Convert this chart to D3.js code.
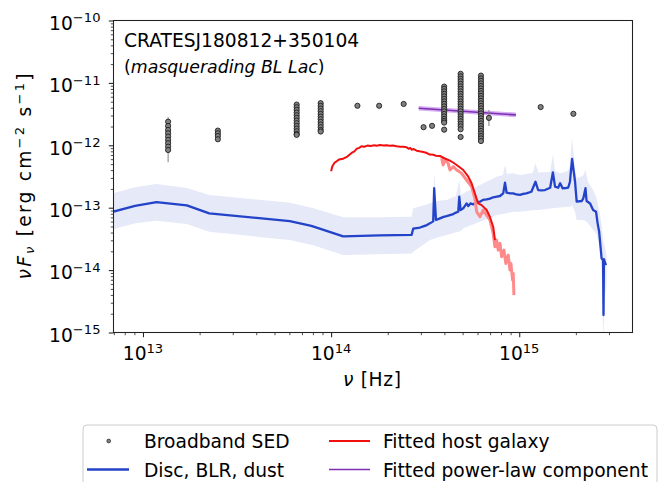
<!DOCTYPE html>
<html>
<head>
<meta charset="utf-8">
<script src="https://cdn.jsdelivr.net/npm/d3@7"></script>
<style>
  body { margin: 0; background: #fff; }
  text { font-family: "DejaVu Sans", sans-serif; fill: #000; }
</style>
</head>
<body>
<svg id="chart" width="665" height="482"></svg>
<script>
// ---- Broadband SED photometry (Hz, erg cm^-2 s^-1) ----
const sedNu = [
  1.36e13,1.36e13,1.36e13,1.36e13,1.36e13,1.36e13,1.36e13,1.36e13,1.36e13,
  2.50e13,2.50e13,2.50e13,2.50e13,
  6.56e13,6.56e13,6.56e13,6.56e13,6.56e13,6.56e13,6.56e13,6.56e13,6.56e13,6.56e13,6.56e13,6.56e13,6.56e13,
  8.80e13,8.80e13,8.80e13,8.80e13,8.80e13,8.80e13,8.80e13,8.80e13,8.80e13,8.80e13,8.80e13,8.80e13,
  1.38e14,1.80e14,2.43e14,3.10e14,3.44e14,
  3.99e14,3.99e14,3.99e14,3.99e14,3.99e14,3.99e14,3.99e14,3.99e14,3.99e14,3.99e14,3.99e14,3.99e14,3.99e14,3.99e14,3.99e14,3.99e14,3.99e14,
  4.88e14,4.88e14,4.88e14,4.88e14,4.88e14,4.88e14,4.88e14,4.88e14,4.88e14,4.88e14,4.88e14,4.88e14,4.88e14,4.88e14,4.88e14,4.88e14,4.88e14,4.88e14,4.88e14,4.88e14,4.88e14,4.88e14,4.88e14,4.88e14,
  6.26e14,6.26e14,6.26e14,6.26e14,6.26e14,6.26e14,6.26e14,6.26e14,6.26e14,6.26e14,6.26e14,6.26e14,6.26e14,6.26e14,6.26e14,6.26e14,6.26e14,6.26e14,6.26e14,6.26e14,6.26e14,6.26e14,6.26e14,6.26e14,6.26e14,6.26e14,6.26e14,
  6.90e14,1.30e15,1.94e15
];
const sedFlux = [
  2.39e-12,2.04e-12,1.76e-12,1.56e-12,1.38e-12,1.22e-12,1.08e-12,9.51e-13,8.41e-13,
  1.72e-12,1.56e-12,1.41e-12,1.25e-12,
  4.49e-12,4.07e-12,3.69e-12,3.34e-12,3.03e-12,2.75e-12,2.49e-12,2.26e-12,2.04e-12,1.85e-12,1.68e-12,1.52e-12,1.47e-12,
  4.73e-12,4.28e-12,3.87e-12,3.52e-12,3.18e-12,2.88e-12,2.62e-12,2.37e-12,2.15e-12,1.95e-12,1.76e-12,1.66e-12,
  4.30e-12,4.30e-12,4.60e-12,1.95e-12,2.05e-12,
  8.73e-12,8.02e-12,7.31e-12,6.67e-12,6.08e-12,5.54e-12,5.05e-12,4.61e-12,4.20e-12,3.83e-12,3.49e-12,3.18e-12,2.90e-12,2.65e-12,2.46e-12,2.31e-12,1.78e-12,
  1.40e-11,1.27e-11,1.16e-11,1.06e-11,9.64e-12,8.79e-12,8.02e-12,7.31e-12,6.67e-12,6.08e-12,5.54e-12,5.05e-12,4.61e-12,4.20e-12,3.83e-12,3.49e-12,3.18e-12,2.90e-12,2.65e-12,2.42e-12,2.20e-12,2.01e-12,1.81e-12,1.36e-12,
  1.31e-11,1.18e-11,1.08e-11,9.82e-12,8.95e-12,8.16e-12,7.44e-12,6.79e-12,6.19e-12,5.65e-12,5.15e-12,4.69e-12,4.28e-12,3.90e-12,3.56e-12,3.24e-12,2.96e-12,2.70e-12,2.46e-12,2.24e-12,2.04e-12,1.86e-12,1.70e-12,1.55e-12,1.41e-12,1.29e-12,1.17e-12,
  2.75e-12,4.10e-12,3.20e-12
];
// Error bars on the photometry
const errNu = [1.36e13, 6.90e14];
const errLo = [5.35e-13, 2.04e-12];
const errHi = [2.82e-12, 3.69e-12];

// ---- Disc + BLR + dust model ----
const discNu = [
  6.90e12,9.07e12,1.18e13,1.71e13,2.25e13,6.03e13,7.85e13,1.16e14,1.81e14,2.68e14,
  2.73e14,2.85e14,2.97e14,3.09e14,3.23e14,3.35e14,3.49e14,3.53e14,3.61e14,3.79e14,
  3.96e14,4.11e14,4.28e14,4.46e14,4.61e14,4.74e14,4.80e14,4.88e14,5.04e14,5.25e14,
  5.36e14,5.50e14,5.69e14,5.92e14,6.18e14,6.41e14,6.71e14,6.99e14,7.27e14,7.61e14,
  7.90e14,8.22e14,8.40e14,8.57e14,8.93e14,9.29e14,9.66e14,1.009e15,1.05e15,1.09e15,
  1.16e15,1.22e15,1.26e15,1.31e15,1.37e15,1.46e15,1.51e15,1.55e15,1.61e15,1.65e15,
  1.70e15,1.77e15,1.82e15,1.86e15,1.91e15,1.98e15,2.02e15,2.15e15,2.19e15,2.25e15,
  2.28e15,2.38e15,2.47e15,2.56e15,2.61e15,2.66e15,2.71e15,2.74e15,2.79e15,2.805e15,
  2.82e15,2.85e15,2.89e15
];
const discFlux = [
  8.6e-14,1.07e-13,1.23e-13,1.09e-13,8.1e-14,6.1e-14,5.1e-14,3.47e-14,3.6e-14,3.68e-14,
  4.60e-14,4.72e-14,4.81e-14,5.02e-14,5.27e-14,5.61e-14,6.04e-14,2.05e-13,6.34e-14,6.75e-14,
  7.13e-14,7.34e-14,7.62e-14,7.91e-14,8.36e-14,8.61e-14,1.50e-13,9.17e-14,9.77e-14,1.17e-13,
  1.06e-13,1.17e-13,1.13e-13,1.23e-13,1.25e-13,1.33e-13,1.36e-13,1.40e-13,1.47e-13,1.51e-13,
  1.54e-13,1.70e-13,2.52e-13,1.74e-13,1.70e-13,1.70e-13,1.63e-13,1.60e-13,1.66e-13,1.70e-13,
  1.80e-13,2.61e-13,1.92e-13,1.90e-13,1.92e-13,2.09e-13,3.69e-13,2.17e-13,2.09e-13,2.46e-13,
  2.05e-13,2.07e-13,2.09e-13,2.61e-13,6.04e-13,2.61e-13,1.25e-13,1.28e-13,1.41e-13,2.05e-13,
  1.28e-13,1.17e-13,9.17e-14,8.61e-14,5.61e-14,4.11e-14,2.23e-14,1.54e-14,1.44e-14,1.9e-15,
  1.5e-14,1.36e-14,1.2e-14
];
// Uncertainty envelope of the disc model
const bandNu = [
  6.90e12,9.07e12,1.18e13,1.71e13,2.25e13,6.03e13,8.04e13,1.16e14,1.81e14,2.68e14,
  2.73e14,3.35e14,3.49e14,3.53e14,3.61e14,4.11e14,4.61e14,4.80e14,4.90e14,5.04e14,
  6.18e14,7.58e14,8.19e14,8.40e14,8.60e14,9.29e14,1.009e15,1.18e15,1.22e15,1.265e15,
  1.46e15,1.51e15,1.55e15,1.65e15,1.815e15,1.86e15,1.91e15,1.98e15,2.02e15,2.18e15,
  2.25e15,2.32e15,2.47e15,2.58e15,2.69e15,2.74e15,2.80e15,2.84e15,2.91e15
];
const bandLo = [
  4.5e-14,5.61e-14,6.18e-14,5.47e-14,4.11e-14,3.03e-14,2.51e-14,1.74e-14,1.80e-14,1.85e-14,
  1.96e-14,3.03e-14,3.14e-14,3.20e-14,3.26e-14,3.64e-14,4.06e-14,4.14e-14,4.22e-14,4.67e-14,
  5.96e-14,7.62e-14,7.91e-14,8.06e-14,8.21e-14,8.61e-14,8.61e-14,9.07e-14,9.17e-14,9.17e-14,
  9.69e-14,9.77e-14,9.87e-14,1.01e-13,1.04e-13,1.04e-13,1.10e-13,8.52e-14,6.34e-14,6.34e-14,
  6.11e-14,5.61e-14,4.39e-14,3.78e-14,2.09e-14,1.0e-14,7.5e-16,3.3e-15,6.1e-15
];
const bandHi = [
  1.70e-13,2.12e-13,2.40e-13,2.07e-13,1.60e-13,1.20e-13,9.77e-14,7.0e-14,7.0e-14,7.16e-14,
  9.77e-14,1.17e-13,1.23e-13,3.78e-13,1.28e-13,1.33e-13,1.54e-13,2.78e-13,1.60e-13,1.70e-13,
  2.31e-13,3.14e-13,3.34e-13,4.84e-13,3.47e-13,3.56e-13,3.34e-13,3.60e-13,5.15e-13,3.66e-13,
  3.73e-13,7.18e-13,3.87e-13,3.56e-13,3.87e-13,4.84e-13,1.31e-12,4.02e-13,2.96e-13,3.22e-13,
  4.02e-13,2.58e-13,1.92e-13,1.41e-13,7.62e-14,5.27e-14,2.84e-14,2.52e-14,1.74e-14
];

// ---- Fitted host galaxy template ----
const hostNu = [
  1.000e14,1.015e14,1.027e14,1.045e14,1.07e14,1.10e14,1.16e14,1.22e14,1.285e14,1.33e14,
  1.37e14,1.41e14,1.45e14,1.50e14,1.56e14,1.62e14,1.70e14,1.745e14,1.82e14,1.90e14,
  1.97e14,2.05e14,2.13e14,2.23e14,2.33e14,2.42e14,2.52e14,2.58e14,2.63e14,2.68e14,
  2.75e14,2.85e14,2.95e14,3.09e14,3.20e14,3.35e14,3.49e14,3.60e14,3.79e14,4.00e14,
  4.28e14,4.45e14,4.65e14,5.04e14,5.36e14,5.58e14,5.81e14,6.05e14,6.31e14,6.71e14,
  6.98e14,7.27e14,7.43e14
];
const hostFlux = [
  3.83e-13,4.6e-13,4.89e-13,5.3e-13,5.54e-13,5.9e-13,6.1e-13,6.6e-13,7.54e-13,8.0e-13,
  8.83e-13,9.1e-13,9.65e-13,9.5e-13,9.9e-13,9.75e-13,1.0e-12,9.85e-13,1.01e-12,9.9e-13,
  1.0e-12,9.8e-13,9.9e-13,9.65e-13,9.5e-13,9.45e-13,9.3e-13,8.8e-13,9.1e-13,8.5e-13,
  8.7e-13,8.2e-13,8.0e-13,7.8e-13,7.6e-13,7.1e-13,7.08e-13,6.8e-13,6.74e-13,6.2e-13,
  5.67e-13,5.3e-13,4.84e-13,4.02e-13,3.14e-13,2.46e-13,1.70e-13,1.17e-13,1.10e-13,9.17e-14,
  7.16e-14,4.95e-14,3.03e-14
];
// Host template outside the fitted range (drawn faded)
const hostExtNu = [
  3.87e14,3.94e14,4.03e14,4.19e14,4.28e14,4.46e14,4.65e14,4.94e14,5.25e14,5.58e14,
  5.81e14,5.94e14,6.18e14,6.44e14,6.71e14,6.99e14,7.27e14,7.43e14,7.58e14,7.73e14,
  7.90e14,8.06e14,8.29e14,8.49e14,8.74e14,8.93e14,9.03e14,9.22e14,9.29e14,9.37e14
];
const hostExtFlux = [
  6.19e-13,4.84e-13,5.82e-13,5.15e-13,4.02e-13,4.54e-13,4.02e-13,3.56e-13,2.78e-13,2.17e-13,
  1.41e-13,8.61e-14,7.16e-14,9.17e-14,7.62e-14,6.34e-14,3.88e-14,2.37e-14,3.03e-14,2.09e-14,
  2.68e-14,1.63e-14,2.09e-14,1.28e-14,1.74e-14,1.0e-14,1.28e-14,6.9e-15,8.85e-15,3.97e-15
];

// ---- Fitted power-law component ----
const powNu = [2.92e14, 9.60e14];
const powFlux = [3.93e-12, 3.07e-12];
const powLo = [3.60e-12, 2.82e-12];
const powHi = [4.28e-12, 3.34e-12];

// ---- Axis ticks ----
const xMajor = [1e13, 1e14, 1e15];
const xMajorExp = ["13", "14", "15"];
const xMinor = [7e12,8e12,9e12,2e13,3e13,4e13,5e13,6e13,7e13,8e13,9e13,
                2e14,3e14,4e14,5e14,6e14,7e14,8e14,9e14,2e15,3e15];
const yMajor = [1e-15, 1e-14, 1e-13, 1e-12, 1e-11, 1e-10];
const yMajorExp = ["\u221215", "\u221214", "\u221213", "\u221212", "\u221211", "\u221210"];

const legendItems = ["Broadband SED", "Disc, BLR, dust", "Fitted host galaxy", "Fitted power-law component"];

// ---- Drawing ----
const svg = d3.select("#chart");
svg.append("rect").attr("width", 665).attr("height", 482).attr("fill", "#fff");

const P = { l: 113.5, r: 632.5, t: 20.5, b: 332.5 };
const x = d3.scaleLog().domain([6.97e12, 4.0e15]).range([P.l, P.r]);
const y = d3.scaleLog().domain([1e-15, 1e-10]).range([P.b, P.t]);

svg.append("clipPath").attr("id", "plotclip")
  .append("rect").attr("x", P.l).attr("y", P.t).attr("width", P.r - P.l).attr("height", P.b - P.t);

const g = svg.append("g").attr("clip-path", "url(#plotclip)");

const zip = (a, b) => a.map((v, i) => [v, b[i]]);

// disc envelope
g.append("path")
  .datum(bandNu.map((v, i) => ({ nu: v, lo: bandLo[i], hi: bandHi[i] })))
  .attr("d", d3.area().x(d => x(d.nu)).y0(d => y(d.lo)).y1(d => y(d.hi)))
  .attr("fill", "#e5e9f8");

const line = d3.line().x(d => x(d[0])).y(d => y(d[1]));

// disc model
g.append("path").datum(zip(discNu, discFlux)).attr("d", line)
  .attr("fill", "none").attr("stroke", "#2343c9").attr("stroke-width", 2.3)
  .attr("stroke-linejoin", "round");

// host galaxy: faded extension, then fitted part
g.append("path").datum(zip(hostExtNu, hostExtFlux)).attr("d", line)
  .attr("fill", "none").attr("stroke", "#ff8a8a").attr("stroke-width", 3)
  .attr("stroke-linejoin", "round");
g.append("path").datum(zip(hostNu, hostFlux)).attr("d", line)
  .attr("fill", "none").attr("stroke", "#f01010").attr("stroke-width", 2)
  .attr("stroke-linejoin", "round");

// power-law with its uncertainty
g.append("path")
  .datum(powNu.map((v, i) => ({ nu: v, lo: powLo[i], hi: powHi[i] })))
  .attr("d", d3.area().x(d => x(d.nu)).y0(d => y(d.lo)).y1(d => y(d.hi)))
  .attr("fill", "#d7b0f2");
g.append("path").datum(zip(powNu, powFlux)).attr("d", line)
  .attr("fill", "none").attr("stroke", "#7e2fb4").attr("stroke-width", 1.6);

// error bars
g.selectAll("line.err").data(errNu).enter().append("line")
  .attr("x1", d => x(d)).attr("x2", d => x(d))
  .attr("y1", (d, i) => y(errLo[i])).attr("y2", (d, i) => y(errHi[i]))
  .attr("stroke", "#808080").attr("stroke-width", 1);

// photometry
g.selectAll("circle.sed").data(zip(sedNu, sedFlux)).enter().append("circle")
  .attr("cx", d => x(d[0])).attr("cy", d => y(d[1])).attr("r", 2.6)
  .attr("fill", "#808080").attr("stroke", "#111").attr("stroke-width", 0.8);

// ---- Axes ----
function styleAxis(sel) {
  sel.select(".domain").remove();
  sel.selectAll("line").attr("stroke", "#222");
}
const fs = 18.67, fsSup = 13.1;

const xAxisMaj = svg.append("g").attr("transform", `translate(0,${P.b})`)
  .call(d3.axisBottom(x).tickValues(xMajor).tickSize(4.7).tickFormat(""));
styleAxis(xAxisMaj);
xAxisMaj.selectAll("line").attr("stroke-width", 1.07);
const xAxisMin = svg.append("g").attr("transform", `translate(0,${P.b})`)
  .call(d3.axisBottom(x).tickValues(xMinor).tickSize(2.7).tickFormat(""));
styleAxis(xAxisMin);
xAxisMin.selectAll("line").attr("stroke-width", 0.8);

xMajor.forEach((v, i) => {
  const t = svg.append("text").attr("x", x(v)).attr("y", P.b + 27).attr("text-anchor", "middle")
    .attr("font-size", fs);
  t.append("tspan").text("10");
  t.append("tspan").attr("dy", -6.7).attr("font-size", fsSup).text(xMajorExp[i]);
});

const yMinor = [];
yMajor.slice(0, -1).forEach(v => { for (let k = 2; k <= 9; k++) yMinor.push(v * k); });

const yAxisMaj = svg.append("g").attr("transform", `translate(${P.l},0)`)
  .call(d3.axisLeft(y).tickValues(yMajor).tickSize(4.7).tickFormat(""));
styleAxis(yAxisMaj);
yAxisMaj.selectAll("line").attr("stroke-width", 1.07);
const yAxisMin = svg.append("g").attr("transform", `translate(${P.l},0)`)
  .call(d3.axisLeft(y).tickValues(yMinor).tickSize(2.7).tickFormat(""));
styleAxis(yAxisMin);
yAxisMin.selectAll("line").attr("stroke-width", 0.8);

yMajor.forEach((v, i) => {
  const t = svg.append("text").attr("x", P.l - 13).attr("y", y(v) + 9.3).attr("text-anchor", "end")
    .attr("font-size", fs);
  t.append("tspan").text("10");
  t.append("tspan").attr("dy", -7.5).attr("font-size", fsSup).text(yMajorExp[i]);
});

// frame
svg.append("rect").attr("x", P.l).attr("y", P.t).attr("width", P.r - P.l).attr("height", P.b - P.t)
  .attr("fill", "none").attr("stroke", "#222").attr("stroke-width", 1.07);

// axis labels
const xl = svg.append("text").attr("x", (P.l + P.r) / 2 - 1).attr("y", 386)
  .attr("text-anchor", "middle").attr("font-size", fs)
  .attr("textLength", 58).attr("lengthAdjust", "spacing");
xl.append("tspan").attr("font-style", "italic").text("\u03bd");
xl.append("tspan").text(" [Hz]");

const yl = svg.append("text").attr("transform", `translate(31,${(P.t + P.b) / 2}) rotate(-90)`)
  .attr("text-anchor", "middle").attr("font-size", fs)
  .attr("textLength", 206).attr("lengthAdjust", "spacing");
yl.append("tspan").attr("font-style", "italic").text("\u03bdF");
yl.append("tspan").attr("font-style", "italic").attr("font-size", fsSup).attr("dy", 2.8).text("\u03bd");
yl.append("tspan").attr("dy", -2.8).text(" [erg cm");
yl.append("tspan").attr("dy", -7.5).attr("font-size", fsSup).text("\u22122");
yl.append("tspan").attr("dy", 7.5).text(" s");
yl.append("tspan").attr("dy", -7.5).attr("font-size", fsSup).text("\u22121");
yl.append("tspan").attr("dy", 7.5).text("]");

// source name
svg.append("text").attr("x", 124).attr("y", 47).attr("font-size", fs).text("CRATESJ180812+350104");
const sub = svg.append("text").attr("x", 124).attr("y", 72.7).attr("font-size", 17.33);
sub.append("tspan").text("(");
sub.append("tspan").attr("font-style", "italic").text("masquerading BL Lac");
sub.append("tspan").text(")");

// ---- Legend ----
const lg = svg.append("g");
lg.append("rect").attr("x", 83).attr("y", 425).attr("width", 574).attr("height", 75).attr("rx", 4)
  .attr("fill", "#fff").attr("stroke", "#cccccc").attr("stroke-width", 1);
const row1 = 441, row2 = 469.5;
lg.append("circle").attr("cx", 108.7).attr("cy", row1).attr("r", 1.9)
  .attr("fill", "#808080").attr("stroke", "#111").attr("stroke-width", 0.6);
lg.append("line").attr("x1", 87).attr("x2", 129).attr("y1", row2).attr("y2", row2)
  .attr("stroke", "#2343c9").attr("stroke-width", 2.3);
lg.append("line").attr("x1", 329).attr("x2", 370).attr("y1", row1).attr("y2", row1)
  .attr("stroke", "#f01010").attr("stroke-width", 2);
lg.append("line").attr("x1", 329).attr("x2", 370).attr("y1", row2).attr("y2", row2)
  .attr("stroke", "#7e2fb4").attr("stroke-width", 1.6);
const lx = [144, 144, 383, 383], ly = [row1 + 7, row2 + 7, row1 + 7, row2 + 7];
legendItems.forEach((s, i) => {
  lg.append("text").attr("x", lx[i]).attr("y", ly[i]).attr("font-size", fs).text(s);
});
</script>
</body>
</html>
